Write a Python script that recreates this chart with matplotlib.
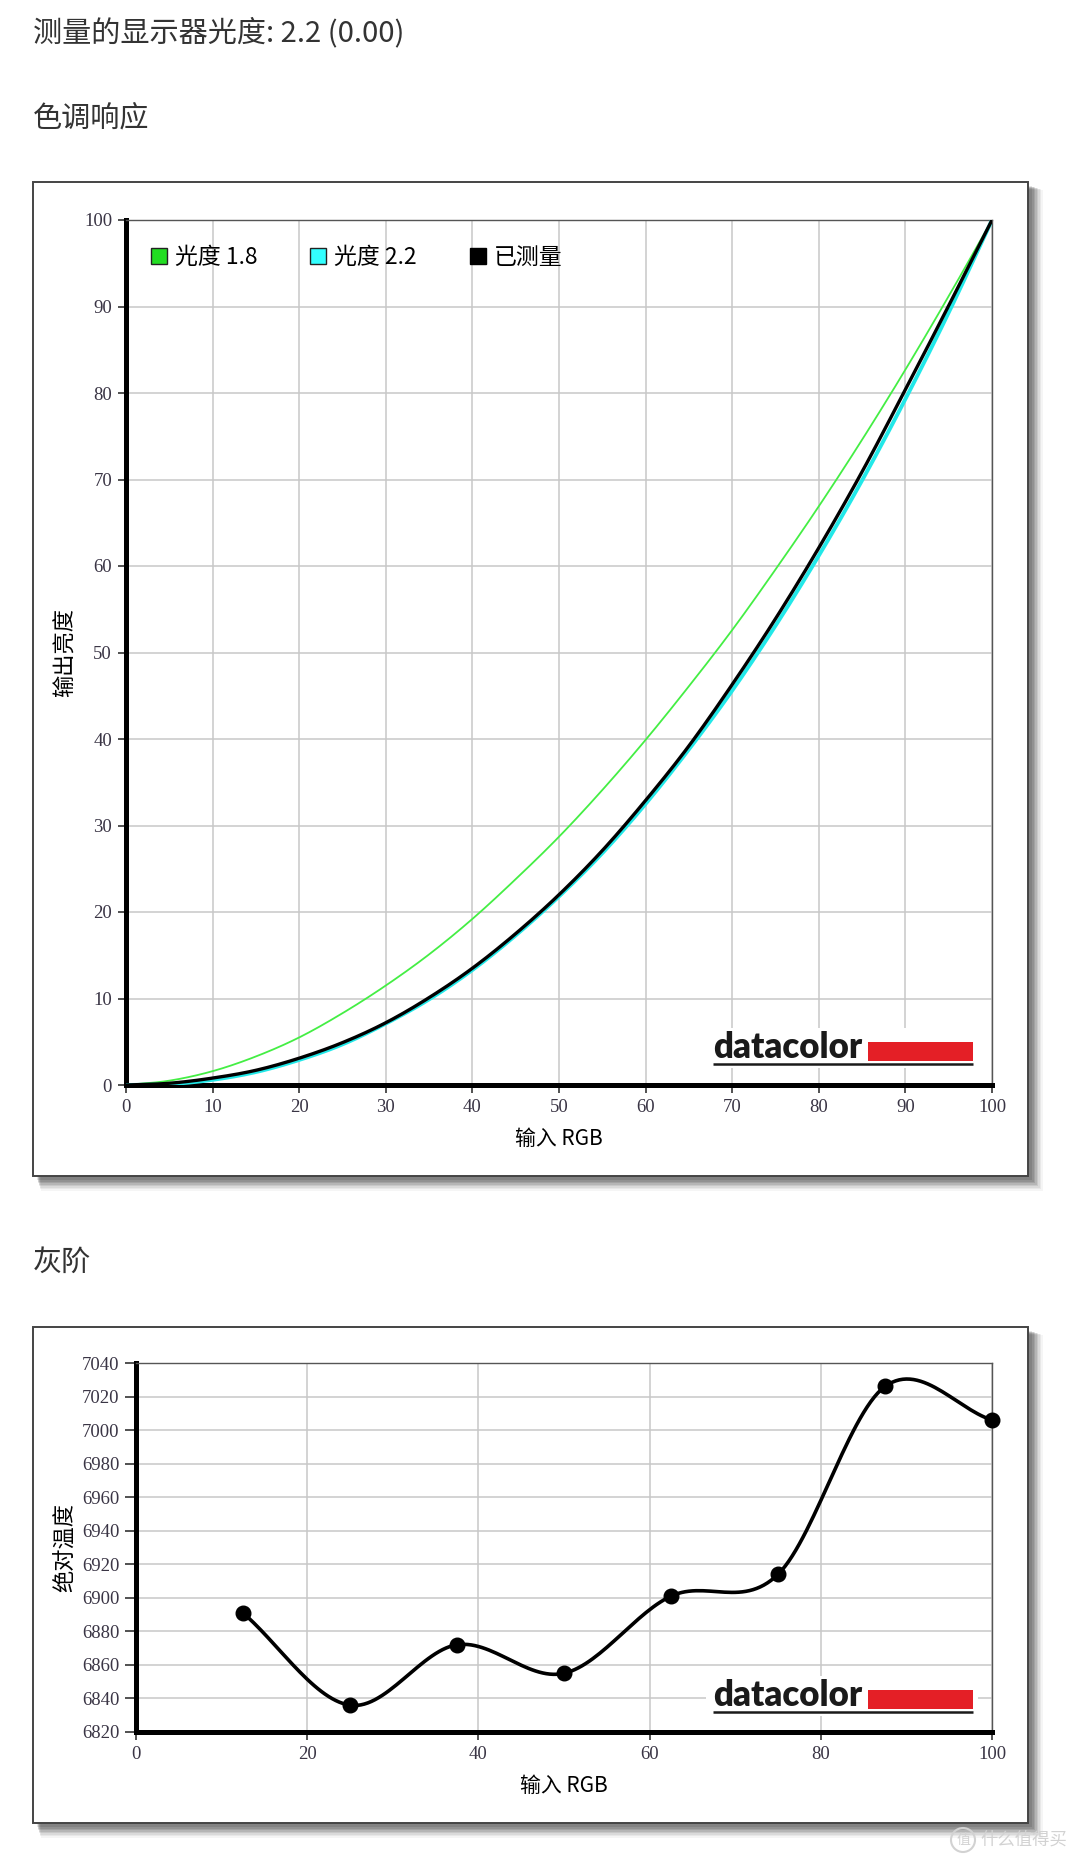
import numpy as np
import matplotlib
matplotlib.use('Agg')
import matplotlib.pyplot as plt
from matplotlib.patches import Rectangle, Patch, Circle

plt.rcParams['font.family'] = ['Noto Sans CJK SC', 'DejaVu Sans']
plt.rcParams['axes.unicode_minus'] = False

# ---- 数据 ----
rgb_input = [0, 5, 10, 15, 20, 25, 30, 35, 40, 45, 50,
             55, 60, 65, 70, 75, 80, 85, 90, 95, 100]
gamma_18 = [0, 0.5, 1.6, 3.3, 5.5, 8.3, 11.5, 15.1, 19.2, 23.8, 28.7,
            34.1, 39.9, 46.1, 52.6, 59.6, 66.9, 74.6, 82.7, 91.2, 100]
gamma_22 = [0, 0.1, 0.6, 1.5, 2.9, 4.7, 7.1, 9.9, 13.3, 17.3, 21.8,
            26.8, 32.5, 38.8, 45.6, 53.1, 61.2, 69.9, 79.3, 89.3, 100]
measured = [0, 0.2, 0.8, 1.7, 3.1, 4.9, 7.2, 10.1, 13.5, 17.5, 22.0,
            27.1, 32.9, 39.2, 46.3, 53.9, 62.1, 70.9, 80.4, 90.1, 100]
legend_labels = ['光度 1.8', '光度 2.2', '已测量']

gray_input = [12.5, 25, 37.5, 50, 62.5, 75, 87.5, 100]
gray_cct = [6891, 6836, 6872, 6855, 6901, 6914, 7026, 7006]

W, H = 1080, 1864


def box(x0, y0, x1, y1):
    """像素框 -> figure 坐标"""
    return [x0 / W, 1 - y1 / H, (x1 - x0) / W, (y1 - y0) / H]


def smooth(x, y, n=30):
    """Hermite 曲线平滑连线（经过每个数据点）"""
    x = np.asarray(x, float)
    y = np.asarray(y, float)
    m = np.zeros_like(y)
    m[1:-1] = (y[2:] - y[:-2]) / (x[2:] - x[:-2])
    m[0] = (y[1] - y[0]) / (x[1] - x[0])
    m[-1] = (y[-1] - y[-2]) / (x[-1] - x[-2])
    xs, ys = [], []
    for i in range(len(x) - 1):
        h = x[i + 1] - x[i]
        t = np.linspace(0, 1, n, endpoint=False)
        h00 = 2 * t**3 - 3 * t**2 + 1
        h10 = t**3 - 2 * t**2 + t
        h01 = -2 * t**3 + 3 * t**2
        h11 = t**3 - t**2
        xs.append(x[i] + t * h)
        ys.append(h00 * y[i] + h10 * h * m[i] + h01 * y[i + 1] + h11 * h * m[i + 1])
    xs.append([x[-1]])
    ys.append([y[-1]])
    return np.concatenate(xs), np.concatenate(ys)


def style_axes(ax):
    ax.set_facecolor('white')
    for s in ['left', 'bottom']:
        ax.spines[s].set_linewidth(3.6)
        ax.spines[s].set_color('black')
    for s in ['top', 'right']:
        ax.spines[s].set_linewidth(1.0)
        ax.spines[s].set_color('#555555')
    ax.tick_params(direction='out', length=6, width=1.2, color='#333333',
                   pad=4, labelsize=13.5, labelcolor='#3a3545')
    for lab in ax.get_xticklabels() + ax.get_yticklabels():
        lab.set_family(['Liberation Serif', 'DejaVu Serif'])
    ax.grid(True, color='#c8c8c8', linewidth=1.1)
    ax.set_axisbelow(True)


def frame(bg, x0, y0, x1, y1):
    # 阴影
    for k, a in enumerate([0.10, 0.10, 0.10, 0.09, 0.08, 0.06, 0.05, 0.04]):
        bg.add_patch(Rectangle((x0 + 4 + k * 0.5, y0 + 4 + k * 0.5),
                               x1 - x0 + k, y1 - y0 + k,
                               facecolor='black', edgecolor='none', alpha=a))
    bg.add_patch(Rectangle((x0, y0), x1 - x0, y1 - y0,
                           facecolor='white', edgecolor='#444444', linewidth=1.4))


def logo(fg, baseline):
    fg.add_patch(Rectangle((706, baseline - 30), 272, 40,
                           facecolor='white', edgecolor='none'))
    fg.text(713, baseline, 'datacolor', fontsize=25, fontweight='heavy',
            family=['Lato', 'DejaVu Sans'], color='#1a1a1a',
            va='baseline', ha='left')
    fg.add_patch(Rectangle((868, baseline - 16), 105, 19,
                           facecolor='#e41f26', edgecolor='none'))
    fg.plot([713, 973], [baseline + 6, baseline + 6], color='#1a1a1a',
            linewidth=1.8, solid_capstyle='butt')


fig = plt.figure(figsize=(10.8, 18.64), dpi=100)
fig.patch.set_facecolor('white')

bg = fig.add_axes([0, 0, 1, 1], zorder=0)
bg.set_xlim(0, W)
bg.set_ylim(H, 0)
bg.axis('off')

head_color = '#333333'
bg.text(33, 33, '测量的显示器光度: 2.2 (0.00)', fontsize=21, color=head_color,
        va='center', ha='left')
bg.text(33, 118, '色调响应', fontsize=21, color=head_color, va='center', ha='left')
bg.text(33, 1263, '灰阶', fontsize=21, color=head_color, va='center', ha='left')

frame(bg, 33, 182, 1028, 1176)
frame(bg, 33, 1327, 1028, 1823)

# ---- 色调响应 ----
ax1 = fig.add_axes(box(126, 220, 992, 1085), zorder=1)
gx, gy = smooth(rgb_input, gamma_18)
ax1.plot(gx, gy, color='#44ee44', linewidth=1.3, zorder=3)
cx, cy = smooth(rgb_input, gamma_22)
ax1.plot(cx, cy, color='#22e8e8', linewidth=2.8, zorder=4)
mx, my = smooth(rgb_input, measured)
ax1.plot(mx, my, color='black', linewidth=2.4, zorder=5)
ax1.set_xlim(0, 100)
ax1.set_ylim(0, 100)
ax1.set_xticks(np.arange(0, 101, 10))
ax1.set_yticks(np.arange(0, 101, 10))
style_axes(ax1)
ax1.set_xlabel('输入 RGB', fontsize=15)
ax1.xaxis.set_label_coords(0.5, -54 / 865)
ax1.xaxis.label.set_va('center')
ax1.set_ylabel('输出亮度', fontsize=16)
ax1.yaxis.set_label_coords(-61 / 866, 0.5)
ax1.yaxis.label.set_va('center')

handles = [Patch(facecolor='#22dd22', edgecolor='#222222', linewidth=1),
           Patch(facecolor='#33ffff', edgecolor='#222222', linewidth=1),
           Patch(facecolor='black', edgecolor='black', linewidth=1)]
ax1.legend(handles, legend_labels, loc='center left', bbox_to_anchor=(0.029, 0.957),
           ncol=3, frameon=False, fontsize=16.5, handlelength=0.7,
           handleheight=0.7, handletextpad=0.35, columnspacing=2.3,
           borderaxespad=0, borderpad=0)

# ---- 灰阶 ----
ax2 = fig.add_axes(box(136, 1363, 992, 1732), zorder=1)
sx, sy = smooth(gray_input, gray_cct)
ax2.plot(sx, sy, color='black', linewidth=2.6, zorder=4)
ax2.plot(gray_input, gray_cct, 'o', color='black', markersize=10.5, zorder=5,
         linestyle='none', clip_on=False)
ax2.set_xlim(0, 100)
ax2.set_ylim(6820, 7040)
ax2.set_xticks(np.arange(0, 101, 20))
ax2.set_yticks(np.arange(6820, 7041, 20))
style_axes(ax2)
ax2.tick_params(axis='y', length=8)
ax2.set_xlabel('输入 RGB', fontsize=15)
ax2.xaxis.set_label_coords(0.5, -54 / 369)
ax2.xaxis.label.set_va('center')
ax2.set_ylabel('绝对温度', fontsize=16)
ax2.yaxis.set_label_coords(-71 / 856, 0.5)
ax2.yaxis.label.set_va('center')

# ---- 前景：标志与水印 ----
fg = fig.add_axes([0, 0, 1, 1], zorder=2)
fg.set_xlim(0, W)
fg.set_ylim(H, 0)
fg.axis('off')
fg.patch.set_alpha(0)
logo(fg, 1058)
logo(fg, 1706)

wm = '#d2d2d2'
fg.add_patch(Circle((963, 1840), 12, facecolor='none', edgecolor=wm, linewidth=1.5))
fg.text(963, 1840, '值', fontsize=10, color=wm, ha='center', va='center')
fg.text(980, 1840, '什么值得买', fontsize=12.5, color=wm, ha='left', va='center')

fig.savefig('out.png', dpi=100)
